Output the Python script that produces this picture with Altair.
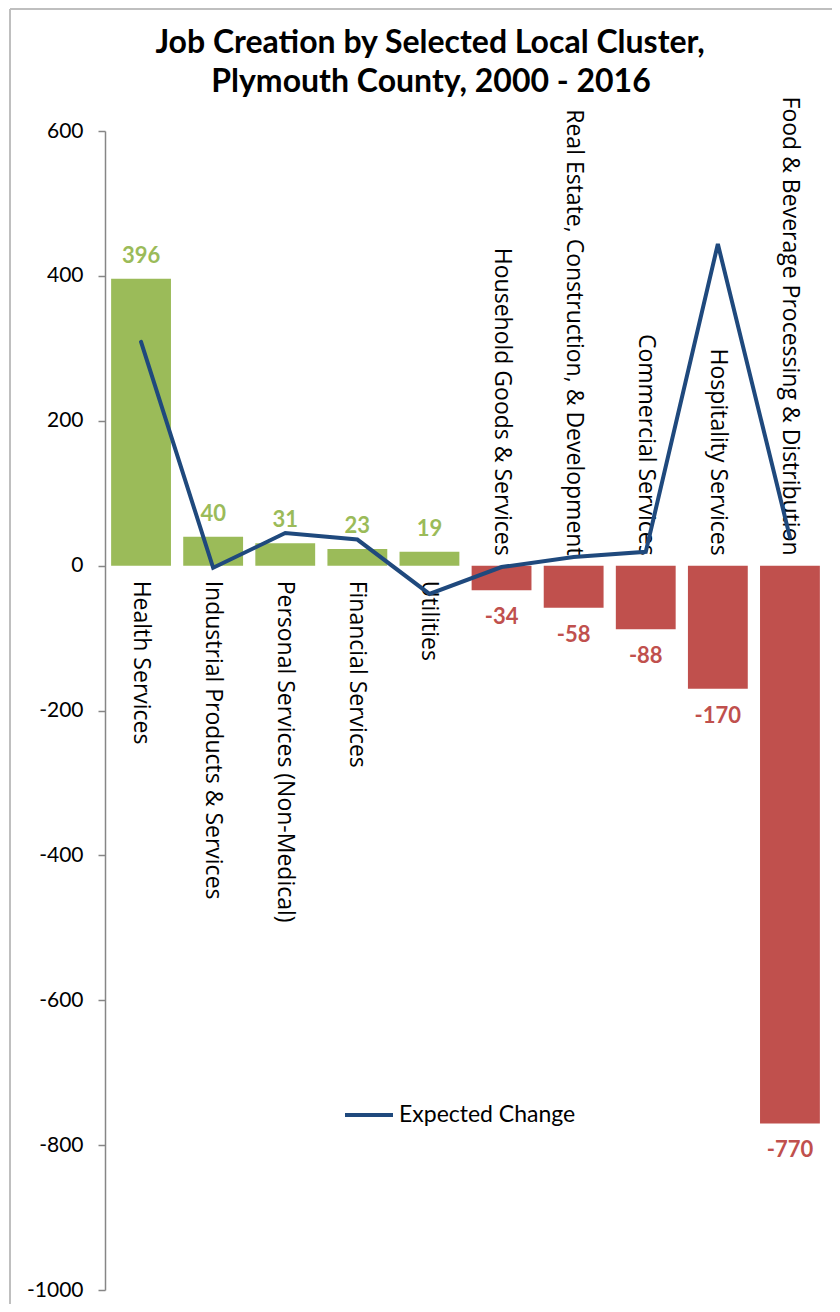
import altair as alt
import pandas as pd

categories = [
    "Health Services",
    "Industrial Products & Services",
    "Personal Services (Non-Medical)",
    "Financial Services",
    "Utilities",
    "Household Goods & Services",
    "Real Estate, Construction, & Development",
    "Commercial Services",
    "Hospitality Services",
    "Food & Beverage Processing & Distribution",
]
job_change = [396, 40, 31, 23, 19, -34, -58, -88, -170, -770]
expected_change = [309, -3, 45, 36, -39, -2, 12, 19, 444, 39]
y_ticks = [-1000, -800, -600, -400, -200, 0, 200, 400, 600]
title_lines = ["Job Creation by Selected Local Cluster,", "Plymouth County, 2000 - 2016"]

df = pd.DataFrame({
    "cat": categories,
    "value": job_change,
    "expected": expected_change,
    "series": ["Expected Change"] * len(categories),
})
df["label"] = [str(v) for v in job_change]

W, H = 721, 1159
GREEN, RED, BLUE, GRAY = "#9BBB59", "#C0504D", "#1F497D", "#868686"

xs = alt.Scale(domain=categories, paddingInner=0.17, paddingOuter=0.085)
ys = alt.Scale(domain=[-1000, 600], nice=False, zero=False)


def xq(axis=None):
    return alt.X("cat:N", sort=categories, scale=xs, axis=axis)


x_axis = alt.Axis(labels=False, title=None, domainColor=GRAY, tickColor=GRAY,
                  tickSize=7, tickBand="extent", position=H * 600 / 1600,
                  zindex=1, domainWidth=1.5, tickWidth=1.5)
y_enc = alt.Y("value:Q", scale=ys,
              axis=alt.Axis(values=y_ticks, title=None, grid=False, domainColor=GRAY,
                            tickColor=GRAY, tickSize=7, labelFont="Lato",
                            labelFontSize=21, labelColor="#000000", labelPadding=15,
                            domainWidth=1.5, tickWidth=1.5, labelExpr="datum.value + ''"))

base = alt.Chart(df)

bars = base.mark_bar().encode(
    x=xq(x_axis), y=y_enc,
    color=alt.condition("datum.value >= 0", alt.value(GREEN), alt.value(RED)),
)

cat_pos = base.transform_filter("datum.value >= 0").mark_text(
    angle=90, align="left", baseline="middle", dx=15,
    font="Open Sans", fontSize=23, color="#000000",
).encode(x=xq(), y=alt.datum(0), text="cat:N")

cat_neg = base.transform_filter("datum.value < 0").mark_text(
    angle=90, align="right", baseline="middle", dx=-10,
    font="Open Sans", fontSize=23, color="#000000",
).encode(x=xq(), y=alt.datum(0), text="cat:N")

val_pos = base.transform_filter("datum.value >= 0").mark_text(
    baseline="alphabetic", dy=-16, font="Lato", fontSize=22, fontWeight="bold", color=GREEN,
).encode(x=xq(), y=alt.Y("value:Q", scale=ys), text="label:N")

val_neg = base.transform_filter("datum.value < 0").mark_text(
    baseline="top", dy=17, font="Lato", fontSize=22, fontWeight="bold", color=RED,
).encode(x=xq(), y=alt.Y("value:Q", scale=ys), text="label:N")

line = base.mark_line(strokeWidth=4, strokeCap="round").encode(
    x=xq(),
    y=alt.Y("expected:Q", scale=ys),
    color=alt.Color("series:N", scale=alt.Scale(range=[BLUE]),
                    legend=alt.Legend(title=None, orient="none", legendX=238, legendY=958,
                                      symbolType="stroke", symbolStrokeWidth=4,
                                      symbolSize=2304, labelFont="Lato", labelFontSize=23,
                                      labelColor="#000000", labelOffset=4, labelLimit=0)),
)

one = alt.Data(values=[{"a": 1}])
frame_left = alt.Chart(one).mark_rule(color="#BFBFBF", strokeWidth=2).encode(
    x=alt.value(-95), y=alt.value(-122), y2=alt.value(H + 40))
frame_top = alt.Chart(one).mark_rule(color="#BFBFBF", strokeWidth=2).encode(
    x=alt.value(-95), x2=alt.value(W + 40), y=alt.value(-122))

title1 = alt.Chart(one).mark_text(
    font="Lato", fontSize=32, fontWeight="bold", align="center", baseline="alphabetic",
    color="#000000",
).encode(x=alt.value(325), y=alt.value(-78), text=alt.value(title_lines[0]))
title2 = alt.Chart(one).mark_text(
    font="Lato", fontSize=32, fontWeight="bold", align="center", baseline="alphabetic",
    color="#000000",
).encode(x=alt.value(326), y=alt.value(-39), text=alt.value(title_lines[1]))

chart = alt.layer(
    frame_left, frame_top, title1, title2, bars, cat_pos, cat_neg, val_pos, val_neg, line
).properties(
    width=W, height=H,
    autosize=alt.AutoSizeParams(type="none"),
    padding={"left": 97, "top": 123, "right": 6, "bottom": 14},
).configure_view(stroke=None)

chart.save("out.html", embed_options={"renderer": "svg", "actions": False})
